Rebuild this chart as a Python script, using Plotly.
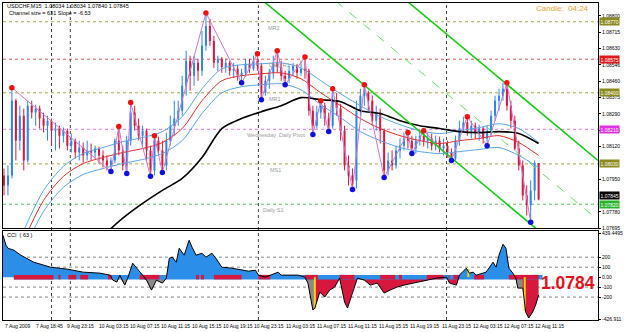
import plotly.graph_objects as go

# ---------------- data (USDCHF M15) ----------------
bar_idx = list(range(136))
open_p = [1.07970,1.07918,1.07970,1.08359,1.08151,1.08281,1.08048,1.08333,1.08297,1.08318,
          1.08266,1.08229,1.08255,1.08203,1.08214,1.08177,1.08203,1.08125,1.08151,1.08089,
          1.08115,1.08074,1.08100,1.08089,1.08110,1.08074,1.08048,1.08022,1.08048,1.08151,
          1.08100,1.08022,1.08151,1.08297,1.08229,1.08177,1.08203,1.08100,1.07996,1.08151,
          1.08100,1.08022,1.08151,1.08229,1.08266,1.08307,1.08437,1.08567,1.08489,1.08556,
          1.08515,1.08645,1.08748,1.08670,1.08556,1.08577,1.08535,1.08556,1.08515,1.08525,
          1.08489,1.08504,1.08551,1.08525,1.08567,1.08541,1.08400,1.08463,1.08504,1.08556,
          1.08535,1.08489,1.08473,1.08515,1.08541,1.08504,1.08525,1.08515,1.08307,1.08229,
          1.08297,1.08333,1.08266,1.08229,1.08359,1.08318,1.08203,1.08022,1.07970,1.07944,
          1.08307,1.08385,1.08400,1.08359,1.08255,1.08297,1.08203,1.07996,1.08048,1.08022,
          1.08100,1.08125,1.08162,1.08151,1.08110,1.08151,1.08177,1.08151,1.08162,1.08125,
          1.08151,1.08110,1.08125,1.08089,1.08058,1.08151,1.08214,1.08245,1.08203,1.08229,
          1.08193,1.08214,1.08162,1.08203,1.08281,1.08359,1.08385,1.08421,1.08333,1.08255,
          1.08110,1.08022,1.07866,1.07814,1.07892,1.08034]
close_p = [1.07918,1.07970,1.08359,1.08151,1.08281,1.08048,1.08333,1.08297,1.08318,1.08266,
           1.08229,1.08255,1.08203,1.08214,1.08177,1.08203,1.08125,1.08151,1.08089,1.08115,
           1.08074,1.08100,1.08089,1.08110,1.08074,1.08048,1.08022,1.08048,1.08151,1.08100,
           1.08022,1.08151,1.08297,1.08229,1.08177,1.08203,1.08100,1.07996,1.08151,1.08100,
           1.08022,1.08151,1.08229,1.08266,1.08307,1.08437,1.08567,1.08489,1.08556,1.08515,
           1.08645,1.08748,1.08670,1.08556,1.08577,1.08535,1.08556,1.08515,1.08525,1.08489,
           1.08504,1.08551,1.08525,1.08567,1.08541,1.08400,1.08463,1.08504,1.08556,1.08535,
           1.08489,1.08473,1.08515,1.08541,1.08504,1.08525,1.08515,1.08307,1.08229,1.08297,
           1.08333,1.08266,1.08229,1.08359,1.08318,1.08203,1.08022,1.07970,1.07944,1.08307,
           1.08385,1.08400,1.08359,1.08255,1.08297,1.08203,1.07996,1.08048,1.08022,1.08100,
           1.08125,1.08162,1.08151,1.08110,1.08151,1.08177,1.08151,1.08162,1.08125,1.08151,
           1.08110,1.08125,1.08089,1.08058,1.08151,1.08214,1.08245,1.08203,1.08229,1.08193,
           1.08214,1.08162,1.08203,1.08281,1.08359,1.08385,1.08421,1.08333,1.08255,1.08110,
           1.08022,1.07866,1.07814,1.07892,1.08034,1.07845]
high_p = [1.08006,1.08022,1.08427,1.08369,1.08333,1.08318,1.08359,1.08359,1.08338,1.08333,
          1.08297,1.08281,1.08266,1.08245,1.08229,1.08219,1.08214,1.08188,1.08162,1.08151,
          1.08141,1.08151,1.08136,1.08125,1.08120,1.08100,1.08074,1.08063,1.08162,1.08224,
          1.08125,1.08177,1.08349,1.08333,1.08266,1.08229,1.08214,1.08125,1.08177,1.08172,
          1.08151,1.08193,1.08281,1.08359,1.08359,1.08489,1.08619,1.08593,1.08593,1.08577,
          1.08722,1.08816,1.08785,1.08696,1.08593,1.08587,1.08577,1.08567,1.08556,1.08546,
          1.08525,1.08577,1.08577,1.08593,1.08603,1.08556,1.08489,1.08525,1.08593,1.08619,
          1.08567,1.08515,1.08541,1.08556,1.08551,1.08567,1.08587,1.08525,1.08333,1.08333,
          1.08359,1.08349,1.08297,1.08421,1.08400,1.08343,1.08229,1.08074,1.08006,1.08359,
          1.08421,1.08442,1.08411,1.08385,1.08333,1.08318,1.08214,1.08089,1.08100,1.08125,
          1.08162,1.08193,1.08193,1.08177,1.08177,1.08203,1.08203,1.08193,1.08188,1.08177,
          1.08172,1.08162,1.08151,1.08110,1.08177,1.08255,1.08276,1.08276,1.08255,1.08245,
          1.08234,1.08224,1.08229,1.08307,1.08385,1.08421,1.08452,1.08452,1.08359,1.08281,
          1.08151,1.08048,1.07918,1.07944,1.08048,1.08034]
low_p = [1.07866,1.07866,1.07954,1.08048,1.08100,1.07996,1.08037,1.08266,1.08229,1.08214,
         1.08193,1.08151,1.08125,1.08100,1.08110,1.08141,1.08100,1.08089,1.08058,1.08048,
         1.08037,1.08048,1.08048,1.08058,1.08032,1.08011,1.07996,1.07990,1.08032,1.08074,
         1.07996,1.07980,1.08125,1.08203,1.08151,1.08125,1.08048,1.07965,1.07970,1.08074,
         1.07985,1.07996,1.08125,1.08177,1.08229,1.08281,1.08385,1.08411,1.08437,1.08463,
         1.08489,1.08619,1.08645,1.08530,1.08515,1.08504,1.08504,1.08489,1.08478,1.08463,
         1.08452,1.08484,1.08504,1.08515,1.08515,1.08364,1.08385,1.08421,1.08473,1.08504,
         1.08463,1.08442,1.08452,1.08489,1.08473,1.08489,1.08473,1.08281,1.08183,1.08214,
         1.08266,1.08229,1.08198,1.08214,1.08281,1.08151,1.07996,1.07918,1.07897,1.07902,
         1.08281,1.08333,1.08307,1.08229,1.08203,1.08136,1.07959,1.07970,1.07996,1.08006,
         1.08058,1.08100,1.08110,1.08084,1.08084,1.08125,1.08120,1.08110,1.08100,1.08100,
         1.08089,1.08074,1.08063,1.08048,1.08048,1.08125,1.08193,1.08177,1.08162,1.08162,
         1.08151,1.08136,1.08125,1.08177,1.08255,1.08307,1.08359,1.08307,1.08214,1.08100,
         1.07996,1.07840,1.07762,1.07726,1.07840,1.07840]

swing_high_idx = [2, 29, 32, 38, 51, 64, 69, 76, 80, 83, 91, 102, 106, 117, 127]
swing_low_idx = [27, 31, 37, 40, 60, 65, 71, 78, 82, 88, 96, 103, 113, 122, 133]

ma_idx = [5, 10, 15, 20, 25, 30, 35, 40, 45, 50, 55, 60, 65, 70, 75, 80, 85, 90, 95,
          100, 105, 110, 115, 120, 125, 130, 135]
sma_black = [None, None, None, None, 1.07655, 1.07747, 1.07824, 1.07892, 1.07954, 1.08063,
             1.08214, 1.08266, 1.08302, 1.08333, 1.08375, 1.08364, 1.08354, 1.08307, 1.08292,
             1.08255, 1.08229, 1.08214, 1.08198, 1.08193, 1.08198, 1.08188, 1.08136]
ema_red = [1.07632, 1.07840, 1.07965, 1.08032, 1.08063, 1.08089, 1.08110, 1.08141, 1.08214,
           1.08359, 1.08463, 1.08489, 1.08499, 1.08504, 1.08473, 1.08400, 1.08333, 1.08266,
           1.08214, 1.08177, 1.08151, 1.08136, 1.08151, 1.08162, 1.08177, 1.08141, 1.08074]
band_upper = [1.07684, 1.07892, 1.08017, 1.08084, 1.08115, 1.08146, 1.08167, 1.08198, 1.08276,
              1.08421, 1.08525, 1.08546, 1.08551, 1.08556, 1.08530, 1.08463, 1.08395, 1.08333,
              1.08276, 1.08234, 1.08203, 1.08188, 1.08203, 1.08219, 1.08239, 1.08214, 1.08141]
band_lower = [1.07581, 1.07783, 1.07908, 1.07975, 1.08006, 1.08032, 1.08053, 1.08084, 1.08151,
              1.08292, 1.08400, 1.08432, 1.08442, 1.08447, 1.08416, 1.08338, 1.08271, 1.08198,
              1.08151, 1.08115, 1.08094, 1.08084, 1.08094, 1.08105, 1.08115, 1.08074, 1.08011]

chan_lower_idx, chan_lower = [65.5, 135.5], [1.08878, 1.07674]
chan_mid_idx, chan_mid = [83.75, 150.0], [1.08878, 1.07738]
chan_upper_idx, chan_upper = [101.75, 150.0], [1.08878, 1.08048]

level_prices = [1.08770, 1.08575, 1.08400, 1.08210, 1.08030, 1.07820]
level_names = ["MR2", "Daily R1", "MR1", "Wednesday  Daily Pivot", "MS1", "Daily S1"]
level_box_text = ["1.08770", "1.08575", "1.08400", "1.08210", "1.08030", "1.07820"]
current_price = 1.07845

day_sep_idx = [12, 16.75, 64.25, 111.75]

price_ticks = [1.08800, 1.08715, 1.08630, 1.08546, 1.08460, 1.08375, 1.08290, 1.08205,
               1.08120, 1.07950, 1.07780, 1.07695]
time_labels = ["7 Aug 2009", "7 Aug 18:45", "9 Aug 23:15", "10 Aug 03:15", "10 Aug 07:15",
               "10 Aug 11:15", "10 Aug 15:15", "10 Aug 19:15", "10 Aug 23:15", "11 Aug 03:15",
               "11 Aug 07:15", "11 Aug 11:15", "11 Aug 15:15", "11 Aug 19:15", "11 Aug 23:15",
               "12 Aug 03:15", "12 Aug 07:15", "12 Aug 11:15"]

cci_idx = [-0.25, 0.5, 1, 2.5, 4.25, 7.5, 11.75, 16, 20, 24.25, 26.75, 27.5, 28.5, 29.25, 30.5,
           31.25, 32.5, 34.25, 36, 37.25, 38.5, 40, 41, 41.75, 42.5, 43.5, 44.25, 45.5, 46.75,
           47.5, 48.5, 50, 51, 52.5, 53.5, 55, 57.5, 61.75, 63.5, 64.25, 66, 69.25, 70, 71.75,
           74.25, 76, 76.75, 78, 78.5, 79.75, 81, 82.25, 83.5, 84.75, 86, 86.75, 88, 89.25, 91,
           92.5, 94.25, 96, 97.5, 99.25, 101, 104.25, 106.75, 109.25, 111.75, 112.5, 114.25,
           115, 116.75, 117.5, 118.5, 119.25, 121.75, 123.5, 124.25, 125, 126, 126.75, 127.5,
           128.5, 129.25, 129.75, 131, 131.75, 132.5, 133.5, 134.25, 135]
cci_val = [420, 320, 290, 270, 220, 150, 100, 80, 50, 40, 20, -30, -50, 20, -80, -10, 140, 50,
           -30, -130, -30, -60, -10, 190, 200, 150, 290, 220, 370, 300, 220, 240, 200, 240, 190,
           100, 90, 60, 70, 20, 0, 50, 20, 20, 20, 0, -60, -330, -310, -150, -200, -130, -100,
           -10, -250, -310, -150, -10, -30, -80, -60, -160, -130, -100, -80, -50, -30, -10, 0,
           -60, -80, 20, 90, 40, 50, 20, 50, 150, 100, 220, 330, 290, 90, 40, -10, -110, -110,
           -350, -410, -350, -280, -180]
cci_ticks = [439.4495, 200, 100, 0, -100, -200, -426.911]
cci_tick_text = ["439.4495", "200", "100", "0.00", "-100", "-200", "-426.911"]
strip_span = [2.5, 136.0]
strip_red_start = [2.5, 13.75, 16.25, 19.25, 26.25, 34.25, 48.5, 49.75, 53, 64.25, 76, 84.75,
                   95, 99.75, 106.75, 112.25, 113.5, 118.75, 127.5]
strip_red_end = [12.5, 14.25, 18.25, 21.25, 27.25, 39.25, 49.25, 50.5, 60, 67.25, 79.25, 88.5,
                 98.75, 100.5, 111, 112.5, 114.75, 121.25, 135]
gray_ranges = [(26.5, 42.0), (76.0, 78.5), (129.25, 131.5)]
yellow_idx = [78.5, 131.5, 117.25]
yellow_val = [-320, -340, 80]

# ---------------- styling ----------------
BULL = "#2b86e6"
BEAR = "#d6183f"
FONT = "Liberation Sans"
W, H = 625, 332
ML, MR, MT, MB = 2, 22, 2, 12


def pxx(px):
    return (px - ML) / (W - ML - MR)


def pxy(py):
    return (H - MB - py) / (H - MT - MB)


fig = go.Figure()

# candles: wicks + bodies
for is_bull, col in [(True, BULL), (False, BEAR)]:
    wx, wy, bx, by = [], [], [], []
    for i in bar_idx:
        if (close_p[i] >= open_p[i]) != is_bull:
            continue
        wx += [i, i, None]
        wy += [low_p[i], high_p[i], None]
        bx += [i, i, None]
        by += [open_p[i], close_p[i], None]
    fig.add_trace(go.Scatter(x=wx, y=wy, mode="lines", line=dict(color=col, width=1),
                             hoverinfo="skip", xaxis="x", yaxis="y"))
    fig.add_trace(go.Scatter(x=bx, y=by, mode="lines", line=dict(color=col, width=2),
                             hoverinfo="skip", xaxis="x", yaxis="y"))

# moving averages / bands
for ys, col, w in [(band_upper, "#5aa6e6", 1), (band_lower, "#5aa6e6", 1),
                   (ema_red, "#e0302a", 1), (sma_black, "#000000", 1.6)]:
    fig.add_trace(go.Scatter(x=ma_idx, y=ys, mode="lines",
                             line=dict(color=col, width=w, shape="spline", smoothing=0.8),
                             xaxis="x", yaxis="y"))

# zigzag
zz = sorted([(i, high_p[i]) for i in swing_high_idx] + [(i, low_p[i]) for i in swing_low_idx])
fig.add_trace(go.Scatter(x=[p[0] for p in zz], y=[p[1] for p in zz], mode="lines",
                         line=dict(color="#cc77cc", width=1), xaxis="x", yaxis="y"))

# regression channel
fig.add_trace(go.Scatter(x=chan_lower_idx, y=chan_lower, mode="lines",
                         line=dict(color="#16cc16", width=1.6), xaxis="x", yaxis="y"))
fig.add_trace(go.Scatter(x=chan_upper_idx, y=chan_upper, mode="lines",
                         line=dict(color="#16cc16", width=1.6), xaxis="x", yaxis="y"))
fig.add_trace(go.Scatter(x=chan_mid_idx, y=chan_mid, mode="lines",
                         line=dict(color="#66dd66", width=1, dash="dash"), xaxis="x", yaxis="y"))

# swing dots
fig.add_trace(go.Scatter(x=swing_high_idx, y=[high_p[i] for i in swing_high_idx], mode="markers",
                         marker=dict(color="#ee1111", size=5.5), xaxis="x", yaxis="y"))
fig.add_trace(go.Scatter(x=swing_low_idx, y=[low_p[i] for i in swing_low_idx], mode="markers",
                         marker=dict(color="#1010dd", size=5.5), xaxis="x", yaxis="y"))

# ---------------- CCI panel ----------------
pos = [max(v, 0) for v in cci_val]
neg = [min(v, 0) for v in cci_val]
fig.add_trace(go.Scatter(x=cci_idx, y=pos, mode="lines", fill="tozeroy", fillcolor="#2b8fea",
                         line=dict(width=0, color="#2b8fea"), xaxis="x2", yaxis="y2"))
fig.add_trace(go.Scatter(x=cci_idx, y=neg, mode="lines", fill="tozeroy", fillcolor=BEAR,
                         line=dict(width=0, color=BEAR), xaxis="x2", yaxis="y2"))
for a, b in gray_ranges:
    gx = [k for k in cci_idx if a <= k <= b]
    gy = [min(v, 0) for k, v in zip(cci_idx, cci_val) if a <= k <= b]
    fig.add_trace(go.Scatter(x=gx, y=gy, mode="lines", fill="tozeroy", fillcolor="#8a8a8a",
                             line=dict(width=0, color="#8a8a8a"), xaxis="x2", yaxis="y2"))

# zero strip
fig.add_trace(go.Scatter(x=strip_span, y=[0, 0], mode="lines",
                         line=dict(color="#2b8fea", width=4.5), xaxis="x2", yaxis="y2"))
sx, sy = [], []
for a, b in zip(strip_red_start, strip_red_end):
    sx += [a, b, None]
    sy += [0, 0, None]
fig.add_trace(go.Scatter(x=sx, y=sy, mode="lines", line=dict(color=BEAR, width=4.5),
                         xaxis="x2", yaxis="y2"))
yx, yy = [], []
for k, v in zip(yellow_idx, yellow_val):
    yx += [k, k, None]
    yy += [0, v, None]
fig.add_trace(go.Scatter(x=yx, y=yy, mode="lines", line=dict(color="#ffd200", width=2),
                         xaxis="x2", yaxis="y2"))
fig.add_trace(go.Scatter(x=cci_idx, y=cci_val, mode="lines", line=dict(color="#000", width=1),
                         xaxis="x2", yaxis="y2"))

# ---------------- shapes ----------------
shapes = []
level_colors = ["#a8a848", "#e05a5a", "#a8a848", "#e07ae0", "#a8a848", "#5cc85c"]
for p, c in zip(level_prices, level_colors):
    shapes.append(dict(type="line", xref="paper", yref="y", x0=0, x1=1, y0=p, y1=p,
                       line=dict(color=c, width=1, dash="dot"), layer="below"))
for k in day_sep_idx:
    shapes.append(dict(type="line", xref="x", yref="paper", x0=k, x1=k, y0=0, y1=1,
                       line=dict(color="#444", width=1, dash="dot"), layer="below"))
for v in [200, 100, -100, -200]:
    shapes.append(dict(type="line", xref="paper", yref="y2", x0=0, x1=1, y0=v, y1=v,
                       line=dict(color="#888", width=1, dash="dot"), layer="below"))

# ---------------- annotations ----------------
ann = []
label_idx = [66.25, 66.5, 66.5, 60.75, 66.75, 65.0]
for name, p, k in zip(level_names, level_prices, label_idx):
    ann.append(dict(x=k, y=p, xref="x", yref="y", text=name, showarrow=False,
                    xanchor="left", yanchor="top", yshift=-1,
                    font=dict(family=FONT, size=5.5, color="#9a9a9a")))
box_colors = ["#8a8a1e", "#e01818", "#8a8a1e", "#e030e0", "#8a8a1e", "#28b428"]
for p, t, c in zip(level_prices, level_box_text, box_colors):
    ann.append(dict(x=1, y=p, xref="paper", yref="y", text=t, showarrow=False,
                    xanchor="left", yanchor="middle", xshift=1, bgcolor=c, borderpad=0.5,
                    font=dict(family=FONT, size=5, color="#ffffff")))
ann.append(dict(x=1, y=current_price, xref="paper", yref="y", text="1.07845", showarrow=False,
                xanchor="left", yanchor="bottom", xshift=1, yshift=-1, bgcolor="#000000",
                borderpad=0.5, font=dict(family=FONT, size=5, color="#ffffff")))
for i, t in enumerate(time_labels):
    ann.append(dict(x=-0.25 + 7.875 * i, y=pxy(326.5), xref="x", yref="paper", text=t,
                    showarrow=False, xanchor="left", yanchor="middle",
                    font=dict(family=FONT, size=5, color="#000")))
ann.append(dict(x=pxx(4), y=pxy(5), xref="paper", yref="paper",
                text="USDCHF,M15  1.08034 1.08034 1.07840 1.07845", showarrow=False,
                xanchor="left", yanchor="middle", font=dict(family=FONT, size=5.5, color="#000")))
ann.append(dict(x=pxx(6), y=pxy(12), xref="paper", yref="paper",
                text="Channel size = 631 Slope = -6.53", showarrow=False,
                xanchor="left", yanchor="middle", font=dict(family=FONT, size=5.5, color="#000")))
ann.append(dict(x=pxx(596), y=pxy(8), xref="paper", yref="paper", text="Candle:  04:24",
                showarrow=False, xanchor="right", yanchor="middle",
                font=dict(family=FONT, size=8, color="#f0a030")))
ann.append(dict(x=pxx(4), y=pxy(235), xref="paper", yref="paper", text="CCI  ( 63 )",
                showarrow=False, xanchor="left", yanchor="middle",
                font=dict(family=FONT, size=5.5, color="#000")))
ann.append(dict(x=pxx(602), y=pxy(283), xref="paper", yref="paper", text="<b>1.0784</b>",
                showarrow=False, xanchor="right", yanchor="middle",
                font=dict(family=FONT, size=17.5, color="#e8101a")))

axis_common = dict(showgrid=False, zeroline=False, showline=True, mirror=True,
                   linecolor="#000", linewidth=1)
fig.update_layout(
    width=W, height=H, margin=dict(l=ML, r=MR, t=MT, b=MB),
    paper_bgcolor="#fff", plot_bgcolor="#fff", showlegend=False,
    xaxis=dict(domain=[0, 1], anchor="y", range=[-0.25, 150], showticklabels=False, ticks="",
               **axis_common),
    xaxis2=dict(domain=[0, 1], anchor="y2", matches="x", range=[-0.25, 150],
                showticklabels=False, ticks="", **axis_common),
    yaxis=dict(domain=[pxy(228), 1], anchor="x", side="right", range=[1.076947, 1.088676],
               tickvals=price_ticks, ticktext=["%.5f" % v for v in price_ticks],
               ticks="outside", ticklen=2, tickcolor="#000",
               tickfont=dict(family=FONT, size=5, color="#000"), **axis_common),
    yaxis2=dict(domain=[0, pxy(231)], anchor="x2", side="right", range=[-430, 460],
                tickvals=cci_ticks, ticktext=cci_tick_text,
                ticks="outside", ticklen=2, tickcolor="#000",
                tickfont=dict(family=FONT, size=5, color="#000"), **axis_common),
    shapes=shapes, annotations=ann,
)

fig.write_html("out.html")
